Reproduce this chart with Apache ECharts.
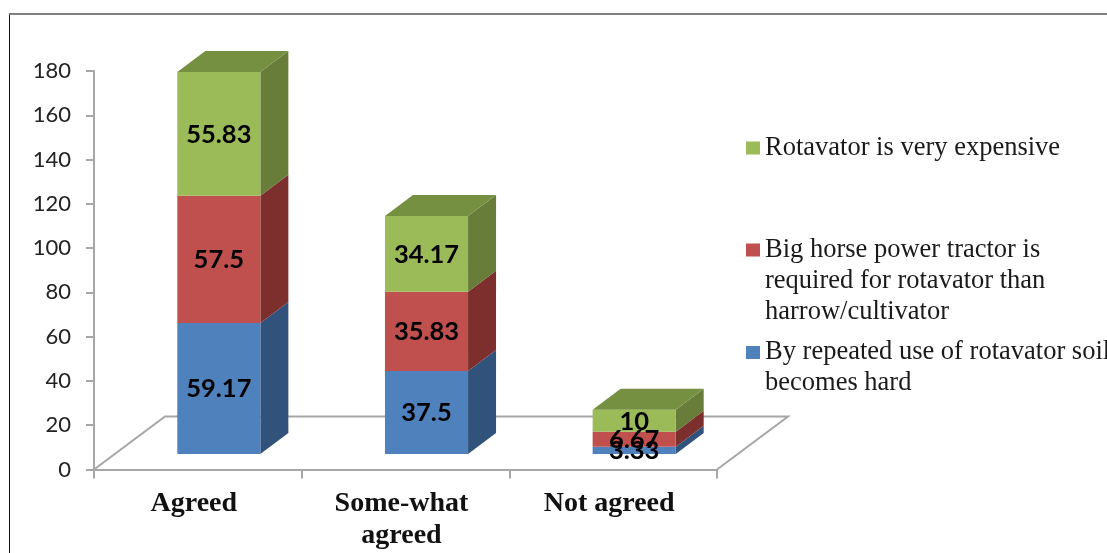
<!DOCTYPE html>
<html>
<head>
<meta charset="utf-8">
<script src="https://cdn.jsdelivr.net/npm/echarts@6/dist/echarts.min.js"></script>
<style>
  html, body { margin: 0; padding: 0; background: #fff; overflow: hidden; }
  #chart { width: 1107px; height: 553px; }
</style>
</head>
<body>
<div id="chart"></div>
<script>
// Survey responses on rotavator drawbacks, drawn as pseudo-3D stacked columns.
const categories = ['Agreed', 'Some-what\nagreed', 'Not agreed'];
const hardSoil = [59.17, 37.5, 3.33];
const bigTractor = [57.5, 35.83, 6.67];
const expensive = [55.83, 34.17, 10];
const yTicks = { min: 0, max: 180, interval: 20 };

const hardSoilName = 'By repeated use of rotavator soil\nbecomes hard';
const bigTractorName = 'Big horse power tractor is\nrequired for rotavator than\nharrow/cultivator';
const expensiveName = 'Rotavator is very expensive';

// Projection of the 3D box: floor depth, where a column sits on it, and its own depth.
const FLOOR_DX = 71, FLOOR_DY = 53;
const INSET_DX = 21, INSET_DY = 15.5;
const BAR_DX = 28, BAR_DY = 21;
const BAR_RATIO = 0.4;
const AXIS_GREY = '#a6a6a6';
const LEGEND_LINE = 31;

function stackRows(values, below) {
  return values.map((v, i) => {
    const base = below.reduce((sum, s) => sum + s[i], 0);
    return [i, base, base + v, v];
  });
}

function boxRenderer(front, side, top, drawTop) {
  return function (params, api) {
    const cat = api.value(0);
    const low = api.coord([cat, api.value(1)]);
    const high = api.coord([cat, api.value(2)]);
    const w = api.size([1, 0])[0] * BAR_RATIO;
    const l = low[0] + INSET_DX - w / 2, r = l + w;
    const b = low[1] - INSET_DY, t = high[1] - INSET_DY;
    const children = [
      { type: 'polygon', shape: { points: [[r, b], [r + BAR_DX, b - BAR_DY], [r + BAR_DX, t - BAR_DY], [r, t]] }, style: { fill: side } },
      { type: 'polygon', shape: { points: [[l, b], [r, b], [r, t], [l, t]] }, style: { fill: front } }
    ];
    if (drawTop) {
      children.push({ type: 'polygon', shape: { points: [[l, t], [r, t], [r + BAR_DX, t - BAR_DY], [l + BAR_DX, t - BAR_DY]] }, style: { fill: top } });
    }
    children.push({
      type: 'text', z2: 100,
      style: {
        x: (l + r) / 2, y: (b + t) / 2 + 0.5,
        text: String(api.value(3)),
        align: 'center', verticalAlign: 'middle',
        font: 'bold 25.5px Lato', fill: '#000'
      }
    });
    return { type: 'group', children };
  };
}

function floorRenderer(params, api) {
  const cs = params.coordSys;
  const x0 = cs.x, x1 = cs.x + cs.width, y = cs.y + cs.height;
  return {
    type: 'polyline',
    shape: { points: [[x0, y], [x0 + FLOOR_DX, y - FLOOR_DY], [x1 + FLOOR_DX, y - FLOOR_DY], [x1, y]] },
    style: { stroke: AXIS_GREY, lineWidth: 2, fill: 'none' }
  };
}

function boxSeries(name, values, below, front, side, top, drawTop) {
  return {
    type: 'custom', name,
    coordinateSystem: 'cartesian2d',
    renderItem: boxRenderer(front, side, top, drawTop),
    itemStyle: { color: front },
    encode: { x: 0, y: [1, 2] },
    data: stackRows(values, below),
    clip: false
  };
}

function legendAt(name, top) {
  const lines = name.split('\n').length;
  return {
    data: [name], orient: 'vertical', left: 746, top, padding: 0,
    icon: 'rect', itemWidth: 14, itemHeight: 13, itemGap: 0,
    selectedMode: false,
    // Blank lines above a wrapped label keep the swatch beside its first line.
    formatter: (label) => ' \n'.repeat(lines - 1) + label,
    textStyle: {
      fontFamily: 'Liberation Serif', fontSize: 26.5, color: '#1a1a1a',
      lineHeight: LEGEND_LINE
    }
  };
}

const chart = echarts.init(document.getElementById('chart'), null, { renderer: 'canvas' });
chart.setOption({
  animation: false,
  backgroundColor: '#fff',
  grid: { left: 94, top: 71, width: 623, height: 398.5 },
  xAxis: {
    type: 'category', data: categories, boundaryGap: true,
    axisLine: { lineStyle: { color: AXIS_GREY, width: 2 } },
    axisTick: { show: true, length: 9, alignWithLabel: false, lineStyle: { color: AXIS_GREY, width: 2 } },
    axisLabel: {
      interval: 0, margin: 18, color: '#111',
      fontFamily: 'Liberation Serif', fontWeight: 'bold', fontSize: 28, lineHeight: 32,
      padding: [0, 8, 0, 0]
    }
  },
  yAxis: {
    type: 'value', min: yTicks.min, max: yTicks.max, interval: yTicks.interval,
    splitLine: { show: false },
    axisLine: { show: true, lineStyle: { color: AXIS_GREY, width: 2 } },
    axisTick: { show: true, length: 8, lineStyle: { color: AXIS_GREY, width: 2 } },
    axisLabel: { margin: 23, color: '#222', fontFamily: 'Lato', fontSize: 22, padding: [2, 0, 0, 0] }
  },
  legend: [
    legendAt(expensiveName, 132.5),
    legendAt(bigTractorName, 172.5),
    legendAt(hardSoilName, 306)
  ],
  graphic: [
    {
      type: 'line', silent: true,
      shape: { x1: 9, y1: 14, x2: 1107, y2: 14 },
      style: { stroke: '#7f7f7f', lineWidth: 2 }
    },
    {
      type: 'line', silent: true,
      shape: { x1: 9.5, y1: 15, x2: 9.5, y2: 553 },
      style: { stroke: '#111', lineWidth: 1 }
    }
  ],
  series: [
    {
      type: 'custom', name: 'floor', coordinateSystem: 'cartesian2d',
      renderItem: floorRenderer, data: [[0, 0]], encode: { x: 0, y: 1 }, clip: false
    },
    boxSeries(hardSoilName, hardSoil, [], '#4F81BD', '#31527A', '#3E6595', false),
    boxSeries(bigTractorName, bigTractor, [hardSoil], '#C0504D', '#7D2F2D', '#9A3F3D', false),
    boxSeries(expensiveName, expensive, [hardSoil, bigTractor], '#9BBB59', '#677D39', '#769042', true)
  ]
});
</script>
</body>
</html>
